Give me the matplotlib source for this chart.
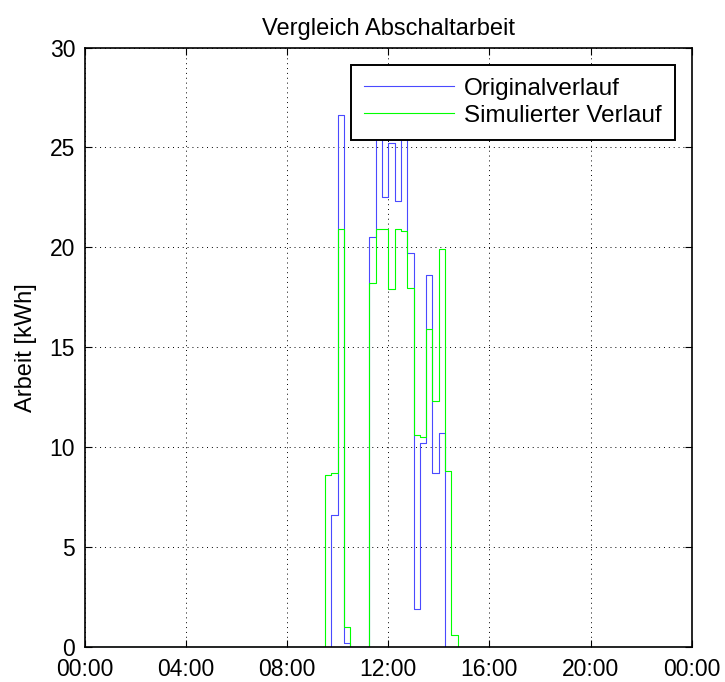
import numpy as np
import matplotlib
matplotlib.use("Agg")
import matplotlib.pyplot as plt
from matplotlib.ticker import FuncFormatter

plt.rcParams['font.family'] = ['Liberation Sans', 'DejaVu Sans']

# quarter-hour values, starting at 09:30 (zero everywhere else during the day)
start_hour = 9.5
slot_len = 0.25
original = [0, 6.6, 26.6, 0.2, 0, 0, 0, 20.5, 27.5, 22.5, 25.2, 22.3,
            26.5, 19.7, 1.9, 10.2, 18.6, 8.7, 10.7, 0, 0, 0]
simulated = [8.6, 8.7, 20.9, 1.0, 0, 0, 0, 18.2, 20.9, 20.9, 17.9, 20.9,
             20.8, 17.95, 10.6, 10.5, 15.9, 12.3, 19.9, 8.8, 0.6, 0]
labels = ['Originalverlauf', 'Simulierter Verlauf']
xticks = [0, 4, 8, 12, 16, 20, 24]

n_slots = int(24 / slot_len)
t = np.arange(n_slots + 1) * slot_len
i0 = int(start_hour / slot_len)


def day_series(vals):
    s = np.zeros(n_slots + 1)
    s[i0:i0 + len(vals)] = vals
    return s


fig = plt.figure(figsize=(7.25, 6.82), dpi=100)
ax = fig.add_axes([0.117, 0.0513, 0.837, 0.879])

ax.step(t, day_series(original), where='post', color='#4a4aff', lw=0.8,
        label=labels[0])
ax.step(t, day_series(simulated), where='post', color='#00ff00', lw=0.8,
        label=labels[1])

ax.set_xlim(0, 24)
ax.set_ylim(0, 30)
ax.set_xticks(xticks)
ax.xaxis.set_major_formatter(FuncFormatter(lambda v, p: '%02d:00' % (int(v) % 24)))
ax.set_yticks(range(0, 31, 5))
ax.tick_params(direction='in', top=True, right=True, labelsize=16.5, length=5)
ax.tick_params(axis='x', pad=8)
ax.tick_params(axis='y', pad=7)
ax.grid(True, color='black', linestyle=(0, (1, 4)), lw=0.7)
for sp in ax.spines.values():
    sp.set_linewidth(1.2)

ax.set_title('Vergleich Abschaltarbeit', fontsize=17, pad=9)
ax.set_ylabel('Arbeit [kWh]', fontsize=17, labelpad=9)

leg = ax.legend(loc='upper right', fontsize=17.5, handlelength=3.7,
                handletextpad=0.4, fancybox=False, framealpha=1,
                edgecolor='black', borderaxespad=0.7, labelspacing=0.2,
                borderpad=0.55)
leg.get_frame().set_linewidth(1.4)

fig.savefig('out.png', dpi=100)
